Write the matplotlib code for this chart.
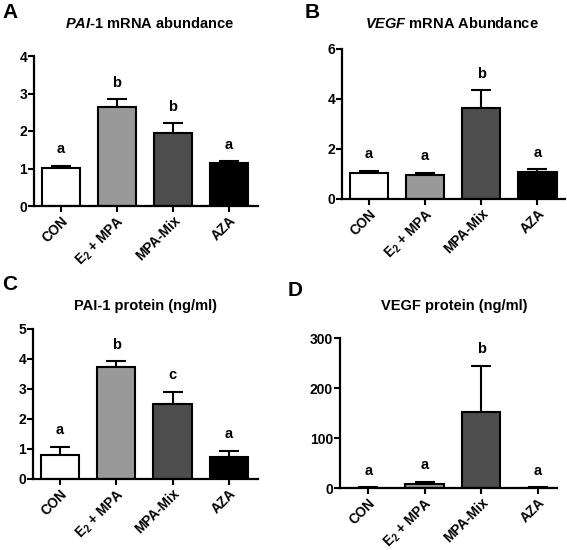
import matplotlib
matplotlib.use("Agg")
import matplotlib.pyplot as plt
import numpy as np

plt.rcParams['font.family'] = ['Liberation Sans', 'DejaVu Sans']
plt.rcParams['font.weight'] = 'bold'
plt.rcParams['mathtext.fontset'] = 'custom'
plt.rcParams['mathtext.rm'] = 'Liberation Sans:bold'
plt.rcParams['mathtext.bf'] = 'Liberation Sans:bold'
plt.rcParams['mathtext.it'] = 'Liberation Sans:italic:bold'

categories = ['CON', r'E$_{2}$ + MPA', 'MPA-Mix', 'AZA']
colors = ['#ffffff', '#999999', '#4d4d4d', '#000000']

pai_mrna = [1.01, 2.64, 1.95, 1.14]
pai_mrna_err = [0.07, 0.20, 0.26, 0.05]
pai_mrna_letters = ['a', 'b', 'b', 'a']

vegf_mrna = [1.04, 0.97, 3.63, 1.07]
vegf_mrna_err = [0.08, 0.08, 0.72, 0.12]
vegf_mrna_letters = ['a', 'a', 'b', 'a']

pai_prot = [0.80, 3.72, 2.50, 0.73]
pai_prot_err = [0.27, 0.20, 0.41, 0.21]
pai_prot_letters = ['a', 'b', 'c', 'a']

vegf_prot = [1.0, 8.7, 153.0, 1.0]
vegf_prot_err = [0.5, 4.3, 92.0, 0.5]
vegf_prot_letters = ['a', 'a', 'b', 'a']

W, H = 567, 550
fig = plt.figure(figsize=(W / 100, H / 100), dpi=100)


def px_axes(l, r, t, b):
    return fig.add_axes([l / W, 1 - b / H, (r - l) / W, (b - t) / H])


panels = [
    dict(box=(34, 258, 56, 206), vals=pai_mrna, err=pai_mrna_err, let=pai_mrna_letters,
         ylim=4, ticks=[0, 1, 2, 3, 4], xlim=(-0.482, 3.518),
         title=r'$\mathit{PAI‐1}$ mRNA abundance', tpos=(150, 24),
         tag='A', tagpos=(10, 12)),
    dict(box=(342, 565, 49, 199), vals=vegf_mrna, err=vegf_mrna_err, let=vegf_mrna_letters,
         ylim=6, ticks=[0, 2, 4, 6], xlim=(-0.48, 3.49),
         title=r'$\mathit{VEGF}$ mRNA Abundance', tpos=(452, 24),
         tag='B', tagpos=(312, 12)),
    dict(box=(33, 258, 329, 479), vals=pai_prot, err=pai_prot_err, let=pai_prot_letters,
         ylim=5, ticks=[0, 1, 2, 3, 4, 5], xlim=(-0.482, 3.518),
         title='PAI-1 protein (ng/ml)', tpos=(145, 306),
         tag='C', tagpos=(10, 285)),
    dict(box=(340, 557, 338, 488), vals=vegf_prot, err=vegf_prot_err, let=vegf_prot_letters,
         ylim=300, ticks=[0, 100, 200, 300], xlim=(-0.5, 3.345),
         title='VEGF protein (ng/ml)', tpos=(454, 306),
         tag='D', tagpos=(295, 290)),
]

for p in panels:
    ax = px_axes(*p['box'])
    x = np.arange(len(categories))
    ax.bar(x, p['vals'], width=0.68, color=colors, edgecolor='black', linewidth=1.5, zorder=2)
    ax.errorbar(x, p['vals'], yerr=[np.zeros(4), p['err']], fmt='none', ecolor='black',
                elinewidth=1.5, capsize=7, capthick=1.5, zorder=1)
    for xi, v, e, lt in zip(x, p['vals'], p['err'], p['let']):
        ax.annotate(lt, (xi, v + e), xytext=(0, 9), textcoords='offset points',
                    ha='center', va='baseline', fontsize=10.5, fontweight='bold')
    ax.set_ylim(0, p['ylim'])
    ax.set_xlim(*p['xlim'])
    ax.set_yticks(p['ticks'])
    ax.set_xticks(x)
    ax.set_xticklabels(categories, rotation=45, ha='right', va='top', rotation_mode='anchor',
                       fontsize=9.8, fontweight='bold')
    ax.tick_params(axis='y', labelsize=10, width=1.5, length=4, pad=1)
    ax.tick_params(axis='x', width=1.5, length=4, pad=1.5)
    for lbl in ax.get_yticklabels():
        lbl.set_fontweight('bold')
    ax.spines['top'].set_visible(False)
    ax.spines['right'].set_visible(False)
    ax.spines['left'].set_linewidth(1.6)
    ax.spines['bottom'].set_linewidth(1.6)
    ax.patch.set_alpha(0)
    fig.text(p['tpos'][0] / W, 1 - p['tpos'][1] / H, p['title'], ha='center', va='center',
             fontsize=10.5, fontweight='bold')
    fig.text(p['tagpos'][0] / W, 1 - p['tagpos'][1] / H, p['tag'], ha='center', va='center',
             fontsize=15, fontweight='bold')

fig.savefig('out.png', dpi=100)
